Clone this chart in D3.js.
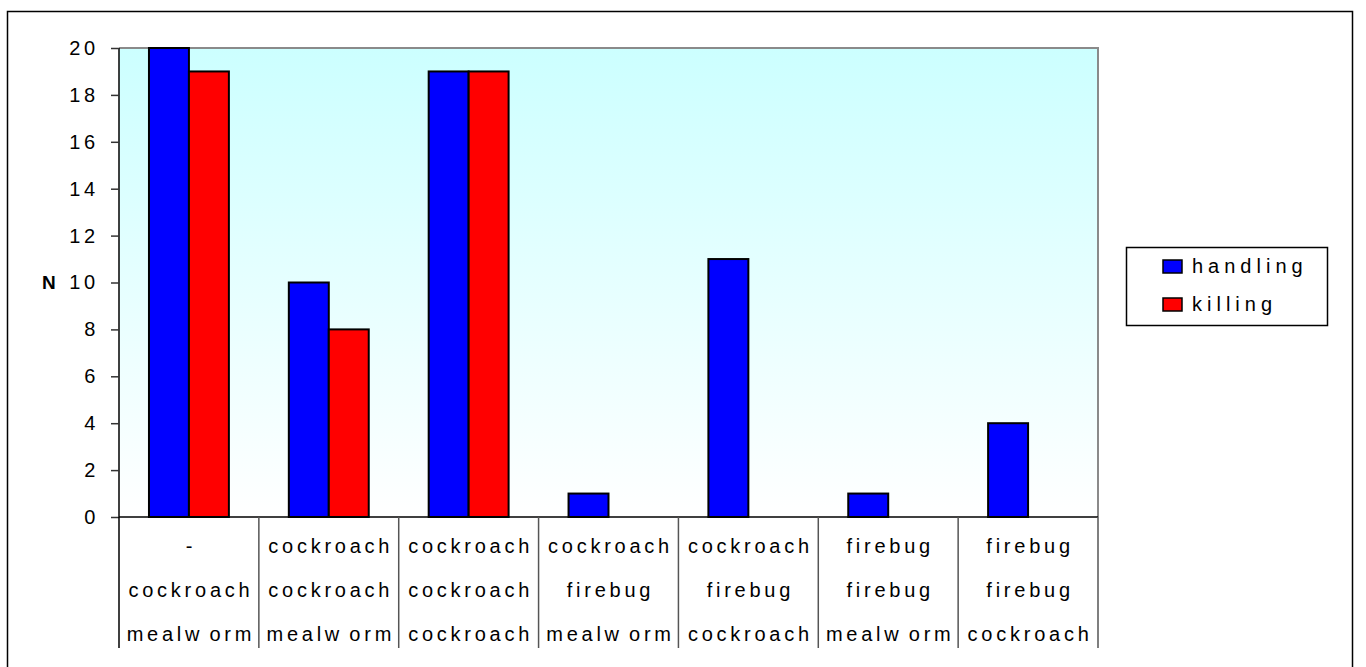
<!DOCTYPE html>
<html>
<head>
<meta charset="utf-8">
<script src="https://cdn.jsdelivr.net/npm/d3@7"></script>
<style>
  body { margin: 0; background: #fff; }
  svg { display: block; font-family: 'Liberation Sans', Arial, sans-serif; }
  .lbl { font-size: 20px; letter-spacing: 3.75px; word-spacing: -3px; fill: #000; }
</style>
</head>
<body>
<svg width="1366" height="667"></svg>
<script>

const categories = ['c1', 'c2', 'c3', 'c4', 'c5', 'c6', 'c7'];
const labelRow1 = ['-', 'cockroach', 'cockroach', 'cockroach', 'cockroach', 'firebug', 'firebug'];
const labelRow2 = ['cockroach', 'cockroach', 'cockroach', 'firebug', 'firebug', 'firebug', 'firebug'];
const labelRow3 = ['mealw orm', 'mealw orm', 'cockroach', 'mealw orm', 'cockroach', 'mealw orm', 'cockroach'];

const seriesNames = ['handling', 'killing'];
const handling = [20, 10, 19, 1, 11, 1, 4];
const killing = [19, 8, 19, null, null, null, null];
const colors = ['#0000ff', '#ff0000'];

const yTicks = [0, 2, 4, 6, 8, 10, 12, 14, 16, 18, 20];

const svg = d3.select('svg'),
    width = +svg.attr('width'),
    height = +svg.attr('height');

const plot = { left: 119, right: 1098, top: 48, bottom: 517 };

// outer frame
svg.append('rect')
    .attr('x', 7.5).attr('y', 11.5)
    .attr('width', 1345).attr('height', 700)
    .attr('fill', '#fff')
    .attr('stroke', '#000')
    .attr('stroke-width', 1.5);

const x = d3.scaleBand()
    .domain(categories)
    .range([plot.left, plot.right])
    .padding(0);

const xs = d3.scaleBand()
    .domain(seriesNames)
    .range([0, x.bandwidth()])
    .paddingInner(0)
    .paddingOuter(0.75);

const y = d3.scaleLinear()
    .domain([0, 20])
    .range([plot.bottom, plot.top]);

const grad = svg.append('defs').append('linearGradient')
    .attr('id', 'bg')
    .attr('x1', 0).attr('y1', 0).attr('x2', 0).attr('y2', 1);
grad.append('stop').attr('offset', '0%').attr('stop-color', '#ccffff');
grad.append('stop').attr('offset', '100%').attr('stop-color', '#ffffff');

// plot background
svg.append('rect')
    .attr('x', plot.left).attr('y', plot.top)
    .attr('width', plot.right - plot.left)
    .attr('height', plot.bottom - plot.top)
    .attr('fill', 'url(#bg)');

// top and right border of plot
svg.append('path')
    .attr('d', `M${plot.left},${plot.top}H${plot.right}V${plot.bottom}`)
    .attr('fill', 'none')
    .attr('stroke', '#8a8a8a')
    .attr('stroke-width', 2);

// bars
const data = categories.map((c, i) => ({ cat: c, values: [handling[i], killing[i]] }));

svg.append('g')
    .selectAll('g')
    .data(data)
    .join('g')
    .attr('transform', d => `translate(${x(d.cat)},0)`)
    .selectAll('rect')
    .data(d => d.values.map((v, j) => ({ key: seriesNames[j], v: v, j: j })).filter(e => e.v != null))
    .join('rect')
    .attr('x', d => xs(d.key))
    .attr('width', xs.bandwidth())
    .attr('y', d => y(d.v))
    .attr('height', d => y(0) - y(d.v))
    .attr('fill', d => colors[d.j])
    .attr('stroke', '#000')
    .attr('stroke-width', 2);

// y axis
const yAxis = svg.append('g')
    .attr('transform', `translate(${plot.left},0)`)
    .call(d3.axisLeft(y).tickValues(yTicks).tickSize(8).tickPadding(10).tickFormat(d3.format('d')));
yAxis.select('.domain').attr('stroke', '#000').attr('stroke-width', 1.5).attr('d', `M0,${plot.top}V${plot.bottom}`);
yAxis.selectAll('.tick line').attr('stroke', '#333').attr('stroke-width', 1.5);
yAxis.selectAll('.tick text')
    .attr('class', 'lbl')
    .attr('x', -20);
yAxis.attr('font-family', null).attr('font-size', null);

svg.append('text')
    .attr('x', 42).attr('y', y(10))
    .attr('dy', '0.35em')
    .attr('font-size', 19)
    .attr('font-weight', 'bold')
    .text('N');

// x axis line
svg.append('line')
    .attr('x1', plot.left).attr('x2', plot.right)
    .attr('y1', plot.bottom).attr('y2', plot.bottom)
    .attr('stroke', '#000').attr('stroke-width', 1.5);

// category separators
const bounds = categories.map(c => x(c)).concat([plot.right]);
svg.append('g')
    .selectAll('line')
    .data(bounds)
    .join('line')
    .attr('x1', d => d).attr('x2', d => d)
    .attr('y1', plot.bottom).attr('y2', 648)
    .attr('stroke', (d, i) => i === 0 ? '#000' : '#555')
    .attr('stroke-width', 1.5);

// category labels
const rows = [labelRow1, labelRow2, labelRow3];
const rowY = [553, 597, 641];
rows.forEach((row, r) => {
    svg.append('g')
        .selectAll('text')
        .data(row)
        .join('text')
        .attr('class', 'lbl')
        .attr('text-anchor', 'middle')
        .attr('x', (d, i) => x(categories[i]) + x.bandwidth() / 2 + 2)
        .attr('y', rowY[r])
        .text(d => d);
});

// legend
const legend = svg.append('g');
legend.append('rect')
    .attr('x', 1126.5).attr('y', 247.5)
    .attr('width', 201).attr('height', 78)
    .attr('fill', '#fff')
    .attr('stroke', '#000')
    .attr('stroke-width', 1.5);

const item = legend.selectAll('g')
    .data(seriesNames)
    .join('g')
    .attr('transform', (d, i) => `translate(1163,${260 + i * 38})`);

item.append('rect')
    .attr('width', 19).attr('height', 13)
    .attr('fill', (d, i) => colors[i])
    .attr('stroke', '#000')
    .attr('stroke-width', 1.5);

item.append('text')
    .attr('class', 'lbl')
    .attr('x', 29)
    .attr('y', 13)
    .style('font-size', '20px')
    .style('letter-spacing', '5px')
    .text(d => d);

</script>
</body>
</html>
